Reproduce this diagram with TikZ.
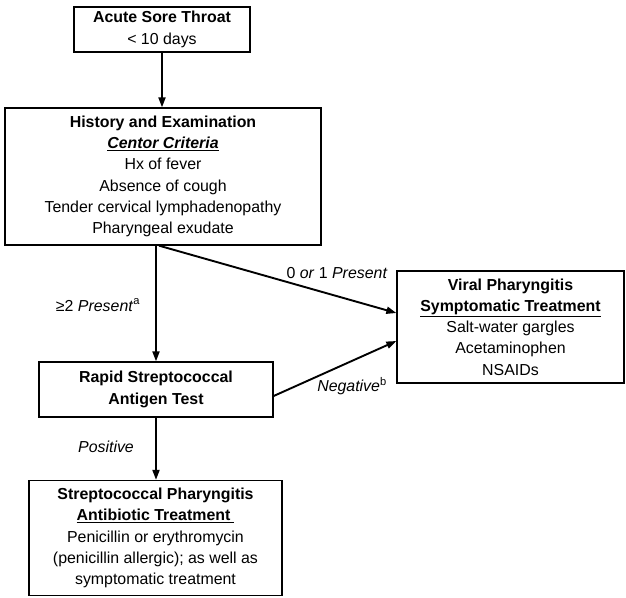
\documentclass[tikz,border=0pt]{standalone}
\usepackage{fontspec}
\setmainfont{Liberation Sans}
\usetikzlibrary{arrows.meta}
\newcommand{\flowul}[1]{\underline{#1}}
\begin{document}
\begin{tikzpicture}[x=1pt,y=-1pt,
  txt/.style={font=\fontsize{15.9}{21.3}\selectfont, align=center, inner sep=0pt},
  box/.style={txt, draw, line width=1.3pt},
  arr/.style={line width=1.9pt, -{Triangle[length=10pt,width=7pt]}},
  lbl/.style={font=\fontsize{15.9}{19}\selectfont, inner sep=0pt}]
\useasboundingbox (0,0) rectangle (626,597);

% boxes
\node[box, minimum width=176pt, minimum height=45pt] (sore) at (162,29.5)
  {\textbf{Acute Sore Throat}\\ < 10 days};
\node[box, minimum width=316pt, minimum height=137pt] (hist) at (163,176.5)
  {\textbf{History and Examination}\\
   \flowul{\textbf{\textit{Centor Criteria}}}\\
   Hx of fever\\ Absence of cough\\ Tender cervical lymphadenopathy\\ Pharyngeal exudate};
\node[box, minimum width=234pt, minimum height=55pt] (rapid) at (156,389.5)
  {\textbf{Rapid Streptococcal}\\ \textbf{Antigen Test}};
\node[box, minimum width=253pt, minimum height=115pt] (strep) at (155.5,538)
  {\textbf{Streptococcal Pharyngitis}\\
   \flowul{\textbf{Antibiotic Treatment}\hspace{4pt}}\hspace{-4pt}\\
   Penicillin or erythromycin\\ (penicillin allergic); as well as\\ symptomatic treatment};
\node[box, minimum width=227pt, minimum height=112pt] (viral) at (510.5,327)
  {\textbf{Viral Pharyngitis}\\
   \flowul{\textbf{Symptomatic Treatment}}\\
   Salt-water gargles\\ Acetaminophen\\ NSAIDs};

% connectors
\draw[arr] (sore.south) -- (sore.south |- hist.north);
\draw[arr] (rapid.north |- hist.south) -- (rapid.north);
\draw[arr] ([xshift=3pt]rapid.north |- hist.south) -- ([yshift=14pt]viral.west);
\draw[arr] ([yshift=-6.5pt]rapid.east) -- ([yshift=-14pt]viral.west);
\draw[arr] (rapid.south) -- (rapid.south |- strep.north);

% connector labels
\node[lbl] (ge2) at (98,305) {≥2 \textit{Present}\textsuperscript{a}};
\node[lbl] (none) at (337,273) {0 \textit{or} 1 \textit{Present}};
\node[lbl] (neg) at (352,386) {\textit{Negative}\textsuperscript{b}};
\node[lbl] (pos) at (106,447) {\textit{Positive}};
\end{tikzpicture}
\end{document}
